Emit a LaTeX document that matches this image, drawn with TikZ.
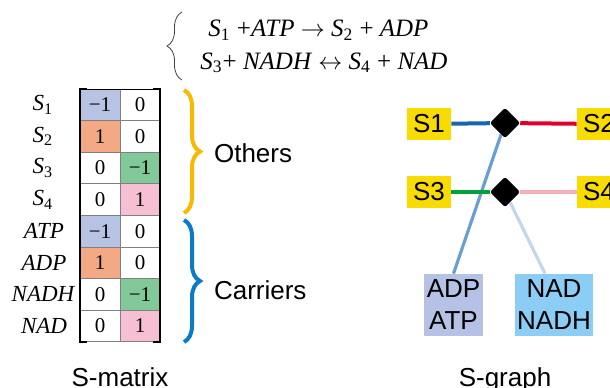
\documentclass[tikz,border=0pt]{standalone}
\usepackage{amsmath, amssymb}
\usepackage{fontspec}
\setmainfont{Liberation Serif}
\setsansfont{Liberation Sans}
\usepackage{xcolor}
\usepackage{tikz}
\usetikzlibrary{shapes, arrows, positioning, calc, decorations.pathreplacing}
\definecolor{cellblue}{HTML}{B7C3E3}
\definecolor{cellorange}{HTML}{F4A985}
\definecolor{cellgreen}{HTML}{82C99A}
\definecolor{cellpink}{HTML}{F7BFD3}
\definecolor{braceorange}{HTML}{F7BA00}
\definecolor{braceblue}{HTML}{0A7BC8}
\definecolor{speciesyellow}{HTML}{F8DC00}
\definecolor{linkblue}{HTML}{1565B0}
\definecolor{linkred}{HTML}{E2002A}
\definecolor{linkgreen}{HTML}{00A03C}
\definecolor{linkpink}{HTML}{F4B1B9}
\definecolor{atpbox}{HTML}{B5C1E5}
\definecolor{nadbox}{HTML}{8BCDF5}
\definecolor{atplink}{HTML}{6A9FD6}
\definecolor{nadlink}{HTML}{C3D6EE}
\newcommand{\chemsub}[2]{\textit{#1}\textsubscript{\upshape #2}}

\begin{document}
\begin{tikzpicture}[x=0.5pt, y=-0.5pt,
    cell/.style={draw=gray, thin, minimum width=20pt, minimum height=15.8pt, inner sep=0pt, font=\fontsize{10.5}{12}\selectfont},
    rowname/.style={font=\fontsize{11.5}{13}\selectfont\itshape},
    eqn/.style={anchor=west, inner sep=0pt, font=\fontsize{12.5}{14}\selectfont},
    label/.style={font=\sffamily\fontsize{13}{15}\selectfont},
    species/.style={fill=speciesyellow, minimum width=22pt, minimum height=16pt, inner sep=0pt, label},
    carrier/.style={minimum height=31pt, inner sep=0pt, align=center, font=\sffamily\fontsize{13}{16}\selectfont},
    reaction/.style={diamond, fill=black, minimum size=15pt, inner sep=0pt, rounded corners=1pt},
    link/.style={line width=2pt}]
    \useasboundingbox (0,0) rectangle (610,387);

    % reactions
    \draw [darkgray, thin, decorate, decoration={brace, amplitude=7.5pt}] (182,80) -- (182,12);
    \node[eqn] (reac1) at (208,30) {\chemsub{S}{1} +\textit{ATP} $\rightarrow$ \chemsub{S}{2} + \textit{ADP}};
    \node[eqn] (reac2) at (200,63) {\chemsub{S}{3}+ \textit{NADH} $\leftrightarrow$ \chemsub{S}{4} + \textit{NAD}};

    % S-matrix
    \node[cell, fill=cellblue]   (m11) at (100,104.8) {−1};
    \node[cell, fill=white]      (m12) at (140,104.8) {0};
    \node[cell, fill=cellorange] (m21) at (100,136.4) {1};
    \node[cell, fill=white]      (m22) at (140,136.4) {0};
    \node[cell, fill=white]      (m31) at (100,168) {0};
    \node[cell, fill=cellgreen]  (m32) at (140,168) {−1};
    \node[cell, fill=white]      (m41) at (100,199.6) {0};
    \node[cell, fill=cellpink]   (m42) at (140,199.6) {1};
    \node[cell, fill=cellblue]   (m51) at (100,231.2) {−1};
    \node[cell, fill=white]      (m52) at (140,231.2) {0};
    \node[cell, fill=cellorange] (m61) at (100,262.8) {1};
    \node[cell, fill=white]      (m62) at (140,262.8) {0};
    \node[cell, fill=white]      (m71) at (100,294.4) {0};
    \node[cell, fill=cellgreen]  (m72) at (140,294.4) {−1};
    \node[cell, fill=white]      (m81) at (100,326) {0};
    \node[cell, fill=cellpink]   (m82) at (140,326) {1};

    \draw [line width=1.2pt] (87,89) -- (80,89) -- (80,342) -- (87,342);
    \draw [line width=1.2pt] (153,89) -- (160,89) -- (160,342) -- (153,342);
    \draw [thin] (80,89) -- (160,89);

    \node[rowname] (s1) at (43,104.8) {\chemsub{S}{1}};
    \node[rowname] (s2) at (43,136.4) {\chemsub{S}{2}};
    \node[rowname] (s3) at (43,168) {\chemsub{S}{3}};
    \node[rowname] (s4) at (43,199.6) {\chemsub{S}{4}};
    \node[rowname] (atp) at (44,231.2) {ATP};
    \node[rowname] (adp) at (44,262.8) {ADP};
    \node[rowname] (nadh) at (43,294.4) {NADH};
    \node[rowname] (nad) at (44,326) {NAD};

    \draw [braceorange, line width=2pt, decorate, decoration={brace, amplitude=8pt}] (184,90) -- (184,213);
    \draw [braceblue, line width=2pt, decorate, decoration={brace, amplitude=8pt}] (184,220) -- (184,342);
    \node[label, anchor=west] (others) at (207,153) {Others};
    \node[label, anchor=west] (carriers) at (207,290) {Carriers};

    \node[label, anchor=base] (smatrix) at (120,386) {S-matrix};

    % S-graph
    \node[species] (S1) at (429,124) {S1};
    \node[species] (S2) at (599,124) {S2};
    \node[species] (S3) at (429,192) {S3};
    \node[species] (S4) at (599,192) {S4};
    \node[reaction] (r1) at (505,123) {};
    \node[reaction] (r2) at (505,192) {};
    \node[carrier, fill=atpbox, minimum width=29.5pt] (adpatp) at (453.5,305) {ADP\\ATP};
    \node[carrier, fill=nadbox, minimum width=39pt] (nadnadh) at (554,305) {NAD\\NADH};

    \draw [atplink, line width=1.6pt] (r1) -- (adpatp.north);
    \draw [nadlink, line width=1.6pt] (r2) -- ([xshift=-4.5pt]nadnadh.north);
    \draw [link, linkblue] (S1) -- (r1);
    \draw [link, linkred] (r1) -- (S2);
    \draw [link, linkgreen] (S3) -- (r2);
    \draw [link, linkpink] (r2) -- (S4);
    \node[reaction] at (r1) {};
    \node[reaction] at (r2) {};

    \node[label, anchor=base] (sgraph) at (505,386) {S-graph};
  \end{tikzpicture}
\end{document}
